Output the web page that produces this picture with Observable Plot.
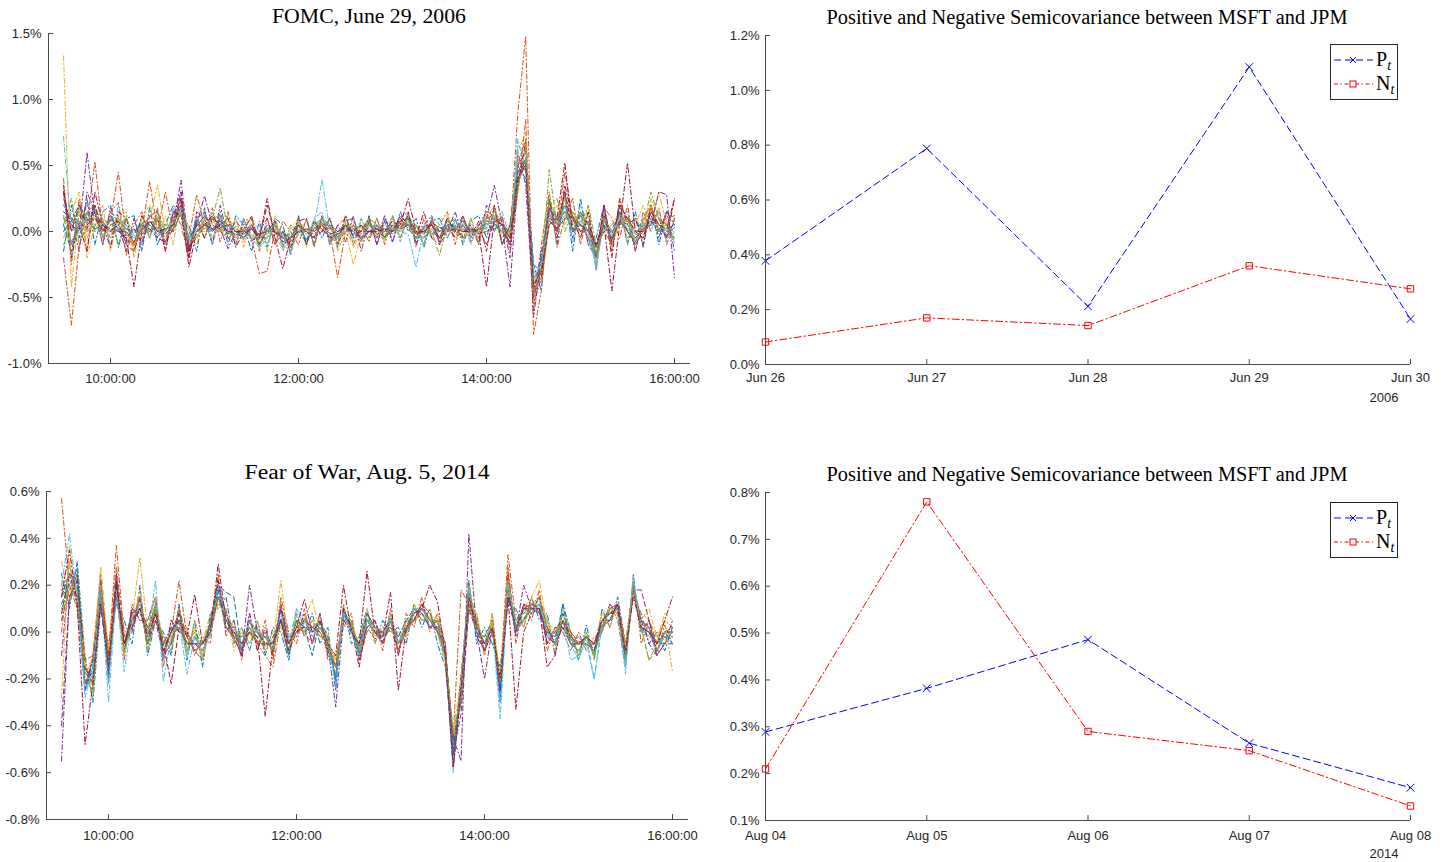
<!DOCTYPE html>
<html><head><meta charset="utf-8">
<script src="https://cdn.jsdelivr.net/npm/d3@7"></script>
<script src="https://cdn.jsdelivr.net/npm/@observablehq/plot@0.6"></script>
<style>
body{margin:0;background:#fff;}
#wrap{position:relative;width:1446px;height:862px;overflow:hidden;background:#fff;}
#wrap svg{position:absolute;}
</style></head><body><div id="wrap"></div>
<script>
// ---------- data ----------
// 5-minute returns (in %), 9:30 .. 16:00 (79 points)
const tradeMinutes = d3.range(79).map(i => 570 + 5 * i);

const fomcReturns = [
[-.15,.20,-.05,.25,-.10,.15,.20,-.12,.10,.12, -.15,.18,-.10,.05,.20,.10,.05,-.15,.18,-.10, .15,-.10,.12,.05,-.15,.08,-.12,.10,.05,-.18, .12,-.10,.08,-.05,.10,-.12,.08,.10,-.08,.12, -.10,.08,-.08,.15,.00,.10,-.12,.08,.10,-.05, .10,-.10,.08,.12,-.05,.18,-.10,.05,.50,.40, -.25,-.45,.25,-.10,.30,-.15,.25,-.10,-.05,.20, -.15,.20,-.10,.15,-.12,.20,-.10,.15,.05],
[.40,-.25,.25,-.15,.20,-.10,.15,.22,-.18,.05, .15,-.05,.18,-.15,.15,.05,-.20,.12,-.05,.18, -.08,.15,-.10,.08,.10,-.15,.10,-.10,.08,.00, -.10,.10,-.12,.12,-.08,.05,.10,-.10,.05,-.08, .10,-.10,.12,-.05,.15,-.12,.10,-.05,.05,.15, -.10,.12,-.08,.05,.15,.00,.12,-.15,.30,.85, -.60,-.10,.30,-.12,.10,.25,-.10,.15,-.30,.18, .10,-.05,.20,-.15,.15,.00,.18,-.10,.10],
[-.05,.15,.30,-.20,.05,.20,-.15,.10,.15,-.20, .10,.20,-.05,.12,-.10,.25,.00,-.10,.15,-.05, .12,-.05,.10,-.12,.10,.00,-.15,.12,-.12,.02, .10,-.12,.10,.00,.10,-.15,.00,.08,-.10,.10, .05,-.08,.10,.00,.12,.05,-.10,.10,-.08,.12, .05,-.05,.10,-.10,.10,.20,-.05,.00,.55,.45, -.35,-.40,.05,.20,.05,.15,-.05,.20,-.25,.15, -.15,.25,-.05,.05,.20,.05,.30,.05,.10],
[.20,.10,-.15,.30,.15,-.10,.18,.05,-.15,.10, -.10,.12,.15,-.10,.12,.30,-.20,.15,.10,-.10, .20,-.05,-.10,.10,-.08,.00,.10,-.10,.00,-.15, .08,.10,-.10,.12,-.10,.05,-.08,.12,-.15,.08, -.05,.12,-.08,.10,.15,-.10,.05,.12,-.10,.00, .15,-.05,.05,-.10,.20,.08,.10,-.20,.60,.35, -.55,-.35,.20,.10,.25,-.05,.15,-.10,-.20,.20, -.10,.15,.10,-.15,.10,.20,-.05,.15,-.15],
[.05,.25,-.10,.15,.20,-.05,.10,-.10,.12,-.15, .12,-.05,.15,.00,.10,.15,-.15,.10,-.05,.15, .00,.12,-.10,.05,.10,-.12,.05,-.05,-.12,.05, .00,.08,-.10,.10,-.05,-.08,.12,-.05,.10,-.05, .10,-.05,.12,-.05,.10,.05,-.10,.10,.00,.05, .10,-.08,.10,-.08,.15,.12,-.10,.05,.45,.50, -.45,-.20,.20,.25,.00,.15,.05,.20,-.10,.00, .05,.15,-.08,.10,.00,.15,.10,.00,.05],
[.30,-.20,.20,.00,.18,.10,-.10,.20,-.05,.00, .08,-.05,.12,-.10,.18,.05,-.05,.10,.12,-.10, .10,.05,-.10,.10,-.05,.05,-.10,.08,-.15,.00, .05,-.08,.10,.15,-.10,.00,.05,-.08,.08,.00, -.05,.05,.10,-.08,.12,.00,-.10,.12,.05,-.05, .08,.10,-.10,.05,.12,.00,.15,-.05,.70,.45, -.30,-.40,.15,.00,.25,-.08,.20,.05,-.30,.15, -.08,.05,.15,-.10,.10,.05,.15,-.08,.00],
[.15,.10,.05,-.15,.30,.05,-.12,.15,.10,-.10, .12,.00,.10,-.15,.15,.12,-.20,.08,-.05,.10, .05,.10,-.12,.00,.12,-.10,.00,.08,-.10,-.05, .10,-.10,.08,.00,.10,-.10,.12,-.05,.00,.10, -.10,.10,.00,.12,.05,-.05,.15,-.05,-.10,.10, .00,.12,-.05,.08,-.15,.20,-.10,.05,.50,.60, -.50,-.30,.25,-.05,.35,.10,-.05,.15,-.20,.20, -.20,.25,.05,.10,-.10,.20,.00,.15,.10],
[.05,-.15,.12,.08,.15,-.05,.10,.02,-.08,-.02, .06,.10,-.04,.02,.00,.15,-.05,.04,.12,.02, .08,-.02,.04,-.06,.05,-.10,.02,.06,-.08,-.04, .05,-.06,.03,.02,-.04,-.02,.05,-.03,.01,.06, .02,-.05,.05,.02,.10,-.08,.03,.00,-.05,.08, .03,.05,-.04,.02,.08,.06,.00,-.10,.35,.55, -.35,-.30,.18,.10,.15,.00,.12,.05,-.20,.08, -.02,.15,.00,-.08,.05,.12,.02,-.03,.03],
[.25,.05,.02,.15,.00,.08,-.05,.10,.05,-.10, -.05,.12,.08,-.08,.10,.25,-.12,.05,.02,.10, .00,.05,-.05,.02,-.06,-.02,.00,-.04,-.02,-.12, -.02,.02,-.05,.08,.04,-.08,.00,.05,-.05,.00, .04,.02,-.02,.08,.05,.00,-.05,.06,.03,.02, -.04,.06,.02,-.05,.10,.12,.05,-.02,.50,.70, -.45,-.20,.10,.00,.28,.10,.05,-.05,-.10,.00, -.10,.08,.12,-.02,-.05,.15,.10,.05,-.05],
[.10,.00,.18,-.05,.12,.05,-.02,.08,.00,-.12, .02,.00,.10,.00,.08,.18,-.08,-.05,.10,.08, .02,.08,.05,-.08,.03,-.08,-.05,.04,-.10,-.15, .00,-.05,.05,.02,-.02,-.08,.04,-.12,.00,.05, -.03,.00,.06,.02,.10,.00,.02,-.03,.00,.04, .02,.00,-.05,.03,.02,.15,.08,-.08,.30,.65, -.30,-.35,.20,.08,.25,.08,.15,-.02,-.22,.10, -.08,.05,.08,-.10,.08,.20,.00,.08,-.02],
[.30,-.10,.05,.20,.10,.00,.12,.00,-.05,.02, -.08,.08,.00,.02,.02,.30,-.15,.10,.15,.00, .10,-.02,.08,.00,.02,-.04,.05,.00,-.08,-.05, .05,.00,-.04,.06,.03,-.02,.00,.04,-.06,.00, .05,-.04,.00,.10,.02,-.05,.04,.05,-.08,.06, .02,.00,.02,-.02,.00,.05,.00,-.08,.45,.50, -.50,-.15,.12,.02,.10,.12,.00,.08,-.12,.00, .02,.12,.00,-.05,.02,.05,.10,-.05,.08],
[-.10,.05,.15,.00,.05,.08,.00,.12,-.02,-.08, .04,.02,.06,-.05,.08,.12,-.08,-.04,.05,.10, .12,.00,-.03,.02,-.02,-.08,-.04,.05,-.02,-.10, .04,-.02,.03,.05,.08,-.03,.06,.02,.00,.08, -.02,-.06,.04,.06,.05,-.02,-.04,.02,-.05,.10, -.02,.05,.00,.02,.06,.08,.05,-.02,.40,.55, -.40,-.28,.25,.10,.15,.02,.08,.05,-.15,.02, .00,.05,.10,-.08,-.03,.08,.02,.05,-.08],
[.20,.10,.00,.10,.02,.05,.08,.02,.05,-.05, -.02,.05,-.02,.00,.10,.22,-.05,.02,.05,.02, .00,.05,.02,-.05,.00,-.02,.02,.00,-.05,-.10, .00,-.05,.02,.10,-.02,-.05,.00,.02,.00,.02, .00,.02,.05,.02,.06,-.06,.03,.05,.00,.02, .03,.05,-.04,.00,.03,.12,.05,-.05,.55,.62, -.38,-.22,.12,.05,.18,.08,.12,-.05,-.25,.08, -.05,.10,.02,-.02,.05,.08,.06,-.02,-.05],
[.35,-.20,.08,.02,.20,.00,.05,.08,-.10,-.15, .05,.02,-.05,-.08,.02,.25,-.15,.00,.05,.12, .03,.05,.00,.00,.05,-.05,.20,-.02,.00,-.12, .05,.00,.05,.02,-.05,-.02,.04,.00,.05,-.02, .02,.00,.08,.03,.12,.00,-.02,.08,.00,.05, -.05,.00,.00,.02,-.10,.08,.05,-.10,.35,.68, -.42,-.35,.08,.02,.30,.00,.15,.05,-.10,.12, -.08,.20,.10,.00,-.05,.15,.05,.02,.25],
[.00,.08,.20,.10,.02,.05,.00,.08,.02,.00, .05,.00,.04,-.02,.05,.18,-.08,.08,.05,.00, .06,.00,-.02,-.04,.02,-.06,.00,.04,-.04,-.02, .00,-.08,.02,.04,.02,-.04,.05,.00,-.04,.04, .02,-.04,.02,.08,.10,-.02,.00,-.02,.02,.05, .04,.08,-.02,.02,.06,.02,.05,.00,.45,.55, -.25,-.30,.18,.08,.20,.05,.05,.02,-.18,.05, -.06,.10,.05,-.05,.02,.08,.00,.02,.05],
[-.20,-.71,-.10,.05,.53,.00,.08,.45,-.05,-.10, .00,.38,.00,.30,.00,.15,-.05,.28,.05,.02, .00,-.05,.00,.02,-.05,-.32,-.30,.02,-.05,-.08, .05,.00,-.02,.05,.00,-.35,.00,.02,.00,.05, -.02,.00,.00,.08,.05,.00,.02,.05,-.05,.02, .00,.04,.00,-.05,.08,.15,.05,-.05,.90,1.48, -.78,-.45,.15,.00,.45,.10,.05,-.05,-.20,.10, .00,.05,.10,.00,.02,.18,.05,.10,.12],
[1.33,-.42,.15,.00,.10,-.05,.05,.10,.00,-.10, .05,.10,.35,.00,.08,.15,-.10,.00,.10,.05, .00,.00,-.05,.02,-.03,-.05,.00,.05,-.05,-.05, .02,.00,.00,.05,.02,-.02,.00,-.25,-.02,.05, .00,-.02,.02,.02,.05,-.05,.00,.02,-.04,.08, .02,.00,-.02,.00,.08,.08,.02,-.02,.60,.75, -.55,-.25,.10,.05,.15,.05,.10,.00,-.12,.02, -.05,.12,.02,-.06,.00,.25,.10,.00,-.05],
[.10,.05,.00,.60,.12,.05,.02,.00,.00,-.08, .02,.05,.00,-.02,.05,.39,-.12,.05,.27,.05, .02,-.13,.00,-.05,.02,-.02,.00,.00,-.05,-.05, .00,.00,-.05,.00,.05,.00,.02,.00,-.05,.00, .02,.00,.05,.02,.05,-.02,.00,.05,-.05,.10, .00,.02,.00,.05,.10,.35,.05,-.42,.40,.55, -.65,-.20,.18,.05,.15,.10,.00,.02,-.12,.05, -.05,.08,.00,-.10,.00,.05,.30,.28,-.35],
[.12,-.08,.05,.15,.00,.10,.05,.00,.10,-.03, -.05,.02,.08,.05,.02,.15,-.05,.00,.02,.10, .33,.00,.02,-.02,.02,-.05,-.02,.05,.00,-.05, .08,.00,.05,.10,.05,-.05,.02,.05,.02,.10, .05,-.05,.02,.00,.08,-.05,.02,.00,-.18,.05, .00,.02,.00,.02,.02,.05,.00,.00,.35,.55, -.45,-.30,.47,.05,.20,.00,.15,.05,-.18,.10, .00,.05,.08,.00,.05,.30,.10,.00,-.05],
[.72,.00,.05,.10,.05,-.02,.00,.02,.00,-.05, .02,.05,.00,.05,.05,.18,-.08,.02,.00,.02, .05,.02,-.02,.00,-.05,-.12,-.05,.02,-.02,-.15, .00,.00,.05,.39,.02,-.05,.00,.00,-.02,.00, .05,.00,.02,.00,-.02,-.27,.02,.00,.00,.05, .02,.02,.00,-.02,.05,.08,.00,-.05,.65,.60, -.35,-.25,.10,.05,.12,.00,.08,.00,-.25,.05, -.03,.10,.02,.00,.05,.05,.00,.02,-.08],
[.30,.00,.20,.05,.10,.05,.00,.05,-.05,-.42, .00,.08,.00,.02,.05,.20,-.27,.00,.05,.02, .05,.00,.00,-.02,.02,-.05,.25,-.05,-.28,-.05, .00,.02,.00,.05,-.02,.00,.05,-.02,.00,.00, .00,.02,.00,.05,.25,.00,.00,.05,-.05,.00, .02,.00,.02,.00,-.42,.10,.05,-.05,.40,.50, -.40,-.30,.05,.10,.52,.00,.05,.00,-.10,.05, -.45,.05,.52,.00,.00,.10,.05,-.05,.25]
];

const warReturns = [
[.25,.10,.30,-.10,-.30,.10,-.05,.12,.05,-.05, .20,-.10,.05,.00,-.10,.12,-.12,.05,-.15,.08, .10,.15,-.05,.02,-.08,.05,-.10,.02,.00,-.12, .08,-.02,.08,-.05,.02,-.25,.12,-.05,-.02,.10, -.05,.05,.00,.02,-.05,.12,.02,.10,-.05,-.15, -.45,-.30,.22,-.05,.02,-.05,-.15,.12,.10,.02, .15,.05,.08,-.10,.12,.00,-.12,.03,-.12,.10, .02,.15,-.05,.15,.08,-.05,.00,-.08,.02],
[.00,.30,.10,-.25,-.10,.25,-.22,.25,-.12,.12, .05,.05,.15,-.15,.05,.00,.02,-.10,-.02,-.05, .25,-.02,.05,-.12,.08,-.08,.05,-.12,.15,.00, -.05,.10,-.05,.08,-.12,-.10,.02,.08,-.12,.00, .05,-.08,.10,-.10,.08,.02,.15,.00,.08,-.05, -.55,-.18,.08,.08,-.10,.08,-.30,.28,-.05,.12, .05,.18,-.08,.02,.00,-.08,.00,-.08,-.02,.00, .12,.05,-.15,.25,-.05,.05,-.10,.03,-.05],
[.30,.15,.25,-.12,-.25,.12,-.08,.15,.02,.00, .18,-.08,.05,-.02,-.08,.10,-.10,.05,-.05,.08, .12,.10,-.08,.02,-.05,.05,-.08,.00,.02,-.10, .08,-.02,.05,-.02,.00,-.22,.12,-.02,-.05,.10, -.05,.02,.00,.00,-.02,.12,.05,.10,.00,-.15, -.45,-.30,.10,.08,-.10,.08,-.20,.15,.08,.02, .15,.08,.05,-.08,.10,.00,-.10,.00,-.12,.08, .02,.12,-.05,.15,.08,.05,-.02,.00,.02],
[-.10,.25,.12,-.15,-.22,.22,-.20,.25,-.10,.10, .05,.05,.15,-.12,.05,.00,.00,-.08,-.12,.05, .22,.00,.05,-.10,.08,-.08,.02,-.10,.12,-.02, -.02,.08,-.05,.08,-.10,-.15,.05,.05,-.12,.02, .05,-.05,.08,-.10,.05,.05,.12,.02,.05,-.05, -.55,-.20,.20,-.02,-.08,.05,-.30,.25,-.02,.12, .08,.15,-.05,.02,.02,-.05,-.02,-.06,-.05,.02, .12,.08,-.12,.22,.00,.02,-.10,-.05,.00],
[.20,.12,.25,-.15,-.28,.15,-.10,.15,.00,.02, .15,-.08,.08,-.02,-.08,.10,-.08,.02,-.12,.05, .12,.10,-.05,.00,-.05,.02,-.08,-.02,.05,-.10, .05,.00,.05,-.02,-.02,-.20,.10,.00,-.05,.08, -.02,.02,.02,-.02,.00,.10,.05,.08,.00,-.12, -.48,-.28,.18,.00,-.02,.00,-.20,.15,.05,.05, .12,.08,.05,-.06,.08,.00,-.10,.00,-.10,.05, .05,.12,-.05,.18,.05,.00,-.02,-.05,.00],
[.05,.28,.15,-.22,-.15,.18,-.18,.22,-.08,.08, .08,.00,.12,-.12,.02,.02,-.02,-.05,-.05,-.02, .20,.02,.02,-.08,.05,-.05,.00,-.08,.10,-.02, .00,.06,-.02,.05,-.08,-.12,.05,.04,-.10,.02, .02,-.05,.08,-.08,.05,.05,.12,.02,.05,-.08, -.52,-.22,.12,.05,-.08,.05,-.28,.22,.00,.10, .10,.15,-.02,.00,.02,-.05,-.02,-.05,-.05,.00, .10,.08,-.12,.22,.00,.02,-.08,.00,-.05],
[.18,.15,.22,-.25,-.12,.22,-.10,.15,-.08,.10, .08,.02,.05,-.05,-.05,.08,-.02,-.08,-.05,.02, .15,.08,-.02,-.02,.00,.00,-.06,-.04,.05,-.08, .05,.02,.02,.05,-.08,-.15,.05,.05,-.10,.08, .02,-.05,.05,-.08,.05,.05,.12,.05,.00,-.08, -.52,-.22,.15,.05,-.08,.05,-.22,.18,.00,.10, .10,.10,.02,-.05,.05,-.05,-.05,-.05,-.05,.05, .05,.12,-.08,.18,.00,.05,-.08,.00,.00],
[.15,.25,.20,-.25,-.15,.15,-.20,.22,-.08,.08, .10,.00,.12,-.10,.00,.08,-.08,-.02,-.10,.05, .20,.17,.15,-.08,.00,.02,-.05,-.02,.05,-.10, .05,.02,-.10,.05,-.02,-.22,.10,.00,-.05,.08, .02,.00,.06,-.02,.05,.10,.08,.02,.05,-.12, -.55,-.20,.18,.00,-.02,.05,-.28,.18,.05,.10, .08,.15,.02,-.05,.12,-.05,-.08,-.02,-.10,.05, .10,.12,-.12,.18,.05,.02,-.05,.00,-.05],
[.05,.18,.25,-.15,-.22,.22,-.10,.28,-.02,.02, .15,-.05,.08,-.05,-.04,.10,-.02,-.08,-.05,.03, .22,.02,-.03,-.08,.05,-.05,.00,-.10,.12,-.05, .00,.06,.02,.00,-.08,-.15,.06,.04,-.10,.02, -.03,.00,.02,-.08,.00,.05,.12,.08,.00,-.08, -.48,-.30,.12,.05,-.08,.00,-.22,.25,.00,.05, .12,.10,-.02,-.05,.02,.00,-.04,-.05,-.05,.02, .05,.12,-.08,.22,.00,.02,-.08,.00,.02],
[.20,.30,.12,-.18,-.12,.15,-.12,.18,-.10,.05, .10,.02,.15,-.05,.00,.02,-.08,.00,-.12,.02, .15,.05,.02,-.02,.00,-.02,-.05,-.04,.10,-.08, .04,.00,.05,.05,-.03,-.12,.05,.05,-.08,.05, .00,-.05,.08,-.05,.04,.06,.08,.05,.06,-.08, -.45,-.28,.20,.04,-.05,.04,-.22,.20,.04,.05, .08,.15,.05,.00,.08,-.02,-.05,-.05,-.05,.08, .10,.08,-.08,.20,.05,-.02,-.04,.08,.05],
[-.40,.15,.22,-.22,-.20,.12,-.18,.15,-.05,.00, .14,-.05,.05,-.10,-.05,.04,-.05,-.05,-.05,.00, .20,.08,-.02,-.10,.05,.00,-.02,-.08,.10,-.04, .00,.02,.00,.02,-.05,-.20,.08,.00,-.06,.02, .05,-.04,.02,-.02,.00,.08,.10,.05,.02,-.10, -.52,-.35,.10,.00,-.08,.00,-.25,.18,.00,.12, .10,.08,.02,-.05,.05,-.05,-.05,-.02,-.08,.02, .05,.12,-.10,.18,.18,.05,-.05,-.05,-.05],
[.15,.20,.15,-.20,-.25,.20,-.15,.18,-.05,.05, .12,.00,.10,-.05,-.02,.05,-.05,-.02,-.08,.02, .18,.05,.02,-.05,.02,-.05,-.02,-.08,.05,-.05, .02,.05,.02,.05,-.06,-.18,.06,.04,-.08,.06, .00,-.02,.04,-.04,.02,.08,.10,.06,.04,-.10, -.50,-.22,.12,.02,-.04,.04,-.22,.20,.02,.06, .10,.12,.00,-.02,.05,-.03,-.08,-.02,-.10,.03, .06,.10,-.12,.20,.02,-.12,-.08,-.02,.00],
[.18,.25,.18,-.28,-.15,.20,-.22,.20,-.05,.08, .12,-.05,.10,-.10,.00,.05,-.10,-.02,-.10,.00, .18,.05,.00,-.05,.00,.00,-.05,-.05,.08,-.08, .10,.02,.00,.02,-.05,-.20,.08,.00,-.08,.05, .02,-.02,.05,-.05,.02,.10,.08,.04,.02,-.10, -.55,-.22,.18,.02,-.05,.02,-.30,.20,.00,.08, .08,.12,.00,-.05,.05,-.05,-.12,-.02,-.20,.02, .08,.10,-.15,.22,.00,.02,-.05,-.02,-.05],
[.08,.25,.22,-.15,-.20,.15,-.10,.22,-.05,.02, .10,.02,.08,-.05,-.22,.02,-.05,-.05,-.08,.00, .22,.02,-.02,-.05,.00,-.05,-.05,-.05,.05,-.08, .00,.05,.02,.00,-.05,-.15,.10,.02,-.15,.05, .00,.00,.05,-.05,.02,.05,.10,.05,.02,-.10, -.58,-.25,.15,.00,-.05,.02,-.25,.18,.02,.10, .12,.10,-.05,.00,.05,-.02,-.05,-.05,-.08,.05, .08,.08,-.10,.20,.02,.00,-.08,.00,.00],
[.12,.20,.27,-.18,-.18,.18,-.15,.20,-.05,.05, .10,.00,.12,-.08,.00,.05,-.05,.00,-.05,.02, .18,.02,.02,-.05,.02,-.02,-.02,-.05,.06,-.05, .02,.04,.00,.04,-.04,-.20,.08,.02,-.10,.05, .00,-.02,.05,-.05,.02,.06,.10,.05,.05,-.08, -.50,-.25,.15,.04,-.05,.02,-.25,.18,.02,.05, .10,.10,.00,-.02,.08,-.03,-.05,-.05,-.08,.05, .08,.10,-.10,.20,.02,.00,-.05,-.02,-.02],
[.57,.20,.10,-.12,-.10,.18,-.10,.37,-.02,.05, .15,-.02,.08,-.10,.00,.22,-.02,-.05,-.05,.00, .15,.05,.00,-.08,.00,-.05,-.10,-.15,.05,-.05, .02,.00,-.05,.02,-.05,-.15,.05,.02,-.05,.05, .00,-.02,.05,-.05,.00,.10,.05,.05,.00,-.08, -.45,.18,.12,.00,-.05,.02,-.20,.33,.05,.08, .12,.15,.02,-.05,.05,.00,-.05,-.02,-.05,.00, .10,.12,-.05,.20,.05,.02,-.05,.05,.02],
[-.28,.37,.15,-.15,-.12,.28,-.08,.15,-.10,.05, .32,.00,.12,-.05,-.02,.05,-.05,.00,-.10,.00, .12,.08,.02,-.05,.00,.02,-.05,-.05,.22,-.05, .00,.05,.14,.00,-.05,-.12,.05,.02,-.05,.05, .02,.00,.02,-.05,.05,.05,.08,.05,.05,-.10, -.42,-.20,.15,.05,-.05,.05,-.20,.18,.05,.10, .15,.22,.02,.00,.05,-.02,-.05,-.05,-.05,.05, .10,.08,-.05,.18,.05,.10,-.02,.05,-.17],
[-.55,.15,.18,-.22,-.12,.15,-.12,.15,-.05,.08, .10,-.05,.10,-.05,.02,.05,-.05,-.05,-.05,.00, .15,.05,-.02,-.10,.20,.00,-.05,-.05,.10,-.05, .02,.02,.00,.02,-.05,-.32,.05,.00,-.05,.05, .00,-.05,.05,-.05,.02,.05,.08,.02,.02,-.08, -.45,-.55,.42,.00,-.20,.02,-.25,.15,.00,.20, .10,.10,-.02,-.05,.02,-.05,-.05,-.02,-.05,.05, .08,.12,-.10,.18,.05,-.05,-.10,-.05,.05],
[.10,.18,.20,-.22,-.20,.15,-.15,.18,-.08,.05, .10,-.05,.10,-.05,-.05,.05,-.05,-.02,-.05,.05, .15,.02,-.02,-.02,.02,-.02,-.02,-.08,.05,-.05, .05,.05,.00,.05,-.05,-.15,.08,.05,-.08,.05, .00,-.02,.05,-.05,.00,.08,.10,.05,.05,-.10, -.42,-.28,.20,.02,-.05,.00,-.22,.22,.02,.05, .10,.12,.00,-.05,.05,-.05,-.05,-.02,-.10,.02, .10,.10,-.10,.20,.02,-.12,-.05,-.02,-.02],
[.20,.42,.15,-.25,-.18,.20,-.30,.18,-.17,.05, .12,-.02,.22,-.21,-.02,.05,-.18,-.02,-.08,.00, .20,.05,.00,-.05,.05,.00,-.02,-.05,.05,-.05, .10,.05,.00,.02,-.05,-.22,.08,.00,-.10,.05, .00,-.02,.05,-.05,.02,.10,.10,.05,.02,-.12, -.60,-.25,.18,.00,-.05,.02,-.37,.20,.05,.08, .08,.12,.00,-.05,.05,-.12,-.10,-.05,-.20,.05, .08,.10,-.18,.24,.00,.00,-.08,.00,-.02],
[.15,.35,.12,-.48,-.22,.12,-.15,.20,-.05,.05, .10,-.02,.08,-.08,.00,.05,-.02,.16,-.05,.00, .29,.05,.00,-.05,.00,-.02,-.36,-.05,.05,-.05, .02,.14,.00,.05,-.05,-.10,.20,.00,-.05,.26, .00,-.02,.17,-.25,.02,.08,.10,.20,.13,-.10, -.58,-.25,.15,.02,-.05,.02,-.20,.15,-.33,.00, .08,.10,-.15,-.10,.05,-.02,-.05,-.02,-.05,.05, .08,.10,-.08,.15,.02,.00,-.05,.05,.15]
];

// Semicovariances (%)
const fomcDays = ["Jun 26", "Jun 27", "Jun 28", "Jun 29", "Jun 30"];
const fomcP = [0.378, 0.788, 0.212, 1.085, 0.166];
const fomcN = [0.082, 0.170, 0.142, 0.360, 0.276];
const warDays = ["Aug 04", "Aug 05", "Aug 06", "Aug 07", "Aug 08"];
const warP = [0.289, 0.382, 0.486, 0.265, 0.170];
const warN = [0.210, 0.780, 0.290, 0.249, 0.131];

const fomcYTicks = [-1.0, -0.5, 0.0, 0.5, 1.0, 1.5];
const warYTicks = [-0.8, -0.6, -0.4, -0.2, 0.0, 0.2, 0.4, 0.6];
const semiTopTicks = [0.0, 0.2, 0.4, 0.6, 0.8, 1.0, 1.2];
const semiBotTicks = [0.1, 0.2, 0.3, 0.4, 0.5, 0.6, 0.7, 0.8];
const timeTicks = [600, 720, 840, 960];

const palette = ["#0072BD", "#D95319", "#EDB120", "#7E2F8E", "#77AC30", "#4DBEEE", "#A2142F"];
const axisColor = "#4a4a4a";

// ---------- drawing ----------
const wrap = document.getElementById("wrap");
const fmtTime = m => `${String(Math.floor(m / 60)).padStart(2, "0")}:${String(m % 60).padStart(2, "0")}:00`;
const fmtPct = v => v.toFixed(1) + "%";
const baseStyle = {fontFamily: "'Liberation Sans', Arial, sans-serif", fontSize: "13px", color: "#262626", background: "transparent", overflow: "visible"};
const DASH = "5,3", DASHDOT = "5,2.5,1.2,2.5";

function place(el, left, top) {
  el.style.left = left + "px";
  el.style.top = top + "px";
  wrap.appendChild(el);
}

function leftPanel(series, yDomain, yTicks, g) {
  const xDomain = [560.4, 970.2];
  const marks = [];
  series.forEach((vals, k) => {
    const rows = vals.map((v, i) => ({t: tradeMinutes[i], v}));
    marks.push(Plot.line(rows, {
      x: "t", y: "v", stroke: palette[k % 7], strokeWidth: 1,
      strokeDasharray: Math.floor(k / 7) === 1 ? DASH : DASHDOT
    }));
  });
  marks.push(Plot.ruleY([yDomain[0]], {stroke: axisColor}));
  marks.push(Plot.ruleX([xDomain[0]], {stroke: axisColor}));
  marks.push(Plot.axisX({ticks: timeTicks, tickFormat: fmtTime, tickSize: -5, tickPadding: g.xpad, stroke: axisColor, label: null}));
  marks.push(Plot.axisY({ticks: yTicks, tickFormat: fmtPct, tickSize: -5, tickPadding: 12, stroke: axisColor, label: null}));
  const p = Plot.plot({
    width: g.w, height: g.h, marginLeft: g.ml, marginRight: g.mr, marginTop: g.mt, marginBottom: g.mb,
    style: baseStyle,
    x: {domain: xDomain}, y: {domain: yDomain},
    marks
  });
  place(p, g.left, g.top);
}

function rightPanel(days, P, N, yDomain, yTicks, year, g) {
  const pRows = P.map((v, i) => ({i, v}));
  const nRows = N.map((v, i) => ({i, v}));
  const p = Plot.plot({
    width: g.w, height: g.h, marginLeft: g.ml, marginRight: g.mr, marginTop: g.mt, marginBottom: g.mb,
    style: baseStyle,
    x: {domain: [0, days.length - 1]}, y: {domain: yDomain},
    marks: [
      Plot.line(pRows, {x: "i", y: "v", stroke: "#0000ff", strokeWidth: 1, strokeDasharray: "7,4"}),
      Plot.line(nRows, {x: "i", y: "v", stroke: "#ff0000", strokeWidth: 1, strokeDasharray: "7,3,1.5,3"}),
      Plot.dot(pRows, {x: "i", y: "v", symbol: "times", r: 3.6, stroke: "#0000ff", strokeWidth: 1}),
      Plot.dot(nRows, {x: "i", y: "v", symbol: "square", r: 3.6, stroke: "#ff0000", fill: "none", strokeWidth: 1}),
      Plot.ruleY([yDomain[0]], {stroke: axisColor}),
      Plot.ruleX([0], {stroke: axisColor}),
      Plot.axisX({ticks: d3.range(days.length), tickFormat: i => days[i], tickSize: -5, tickPadding: g.xpad, stroke: axisColor, label: null}),
      Plot.axisY({ticks: yTicks, tickFormat: fmtPct, tickSize: -5, tickPadding: 11, stroke: axisColor, label: null}),
      Plot.text([year], {text: d => d, frameAnchor: "bottom-right", dx: -12, dy: g.yearDy, lineAnchor: "middle", textAnchor: "end", fill: "#262626"})
    ]
  });
  place(p, g.left, g.top);
}

leftPanel(fomcReturns, [-1.0, 1.5], fomcYTicks, {left: 0, top: 0, w: 723, h: 400, ml: 48, mr: 33, mt: 33, mb: 37, xpad: 15.5});
leftPanel(warReturns, [-0.8, 0.6], warYTicks, {left: 0, top: 440, w: 723, h: 422, ml: 46, mr: 35, mt: 51, mb: 43, xpad: 16.5});
rightPanel(fomcDays, fomcP, fomcN, [0, 1.2], semiTopTicks, "2006", {left: 723, top: 0, w: 723, h: 420, ml: 42, mr: 36, mt: 35, mb: 56, xpad: 13.5, yearDy: 33});
rightPanel(warDays, warP, warN, [0.1, 0.8], semiBotTicks, "2014", {left: 723, top: 440, w: 723, h: 422, ml: 42, mr: 36, mt: 52, mb: 42, xpad: 15.5, yearDy: 33});

// ---------- titles & legends overlay ----------
const ov = d3.create("svg").attr("width", 1446).attr("height", 862).style("left", "0px").style("top", "0px").style("pointer-events", "none");
const titles = [
  {text: "FOMC, June 29, 2006", x: 369, y: 23, w: 194},
  {text: "Positive and Negative Semicovariance between MSFT and JPM", x: 1087, y: 24, w: 521},
  {text: "Fear of War, Aug. 5, 2014", x: 367, y: 479, w: 245},
  {text: "Positive and Negative Semicovariance between MSFT and JPM", x: 1087, y: 481, w: 521}
];
for (const t of titles) {
  ov.append("text").attr("x", t.x).attr("y", t.y).attr("text-anchor", "middle")
    .attr("font-family", "'Liberation Serif', 'Times New Roman', serif").attr("font-size", 20)
    .attr("fill", "#000").attr("textLength", t.w).attr("lengthAdjust", "spacingAndGlyphs").text(t.text);
}
function legend(top) {
  const g = ov.append("g");
  g.append("rect").attr("x", 1330.5).attr("y", top + 0.5).attr("width", 67).attr("height", 55)
    .attr("fill", "#fff").attr("stroke", "#262626").attr("stroke-width", 1);
  const rows = [
    {name: "P", color: "#0000ff", dash: "7,4", y: top + 16},
    {name: "N", color: "#ff0000", dash: "4,2.5,1.5,2.5", y: top + 40}
  ];
  rows.forEach((r, k) => {
    g.append("line").attr("x1", 1334).attr("x2", 1373).attr("y1", r.y).attr("y2", r.y)
      .attr("stroke", r.color).attr("stroke-width", 1).attr("stroke-dasharray", r.dash);
    if (k === 0) {
      g.append("path").attr("d", `M${1350},${r.y - 3}l6,6M${1350},${r.y + 3}l6,-6`).attr("stroke", r.color).attr("fill", "none");
    } else {
      g.append("rect").attr("x", 1350).attr("y", r.y - 3).attr("width", 6).attr("height", 6).attr("stroke", r.color).attr("fill", "#fff");
    }
    const tx = g.append("text").attr("x", 1376).attr("y", r.y + 6).attr("font-family", "'Liberation Serif', serif")
      .attr("font-size", 20).attr("fill", "#000");
    tx.append("tspan").text(r.name);
    tx.append("tspan").attr("dy", 4).attr("font-size", 14).attr("font-style", "italic").text("t");
  });
}
legend(44);
legend(502);
wrap.appendChild(ov.node());
</script></body></html>
